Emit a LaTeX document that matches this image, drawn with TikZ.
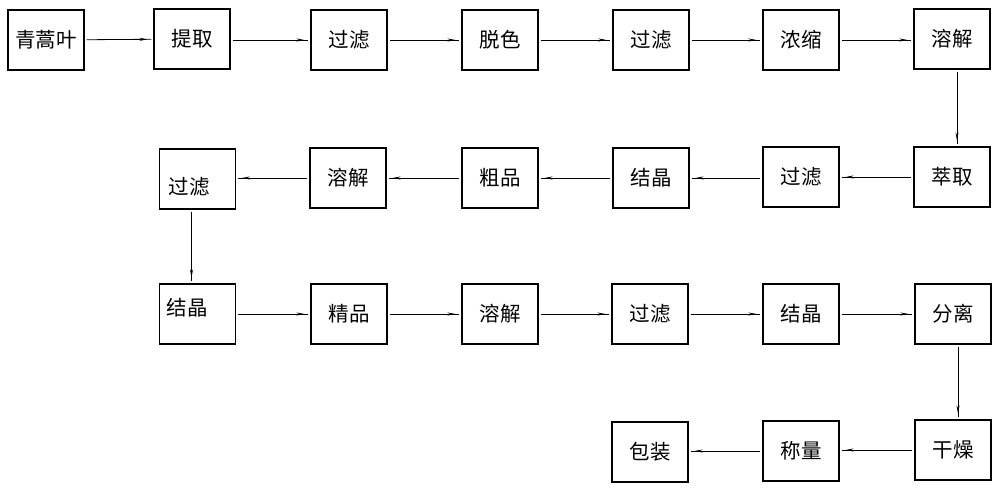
\documentclass[tikz,border=0pt]{standalone}
\usepackage{fontspec}
\newfontfamily\cjk{Noto Sans CJK SC}
\usetikzlibrary{arrows.meta,decorations.markings}
\begin{document}
\begin{tikzpicture}[x=1pt,y=-1pt,
  txt/.style={font=\cjk\fontsize{20.5}{24}\selectfont},
  box/.style={draw,line width=1.1pt,minimum width=76pt,minimum height=60pt,inner sep=0pt,txt},
  flow/.style={line width=0.8pt,shorten <=2pt,shorten >=2pt,postaction={decorate},
    decoration={markings,mark=at position -6pt with {\arrow{Stealth[length=8pt,width=3pt]}}}}]
\useasboundingbox (0,0) rectangle (1000,490);
% row 1
\node[box] (a1) at (46,40) {青蒿叶};
\node[box] (a2) at (192,39) {提取};
\node[box] (a3) at (349,40) {过滤};
\node[box] (a4) at (500,40) {脱色};
\node[box] (a5) at (651,40) {过滤};
\node[box] (a6) at (801,40) {浓缩};
\node[box] (a7) at (952,39) {溶解};
% row 2
\node[box] (b1) at (952,177) {萃取};
\node[box] (b2) at (801,177) {过滤};
\node[box] (b3) at (651,178) {结晶};
\node[box] (b4) at (500,178) {粗品};
\node[box] (b5) at (348,178) {溶解};
\node[box,label={[txt,xshift=-8.5pt,yshift=-8pt]center:过滤}] (b6) at (197.5,179) {};
% row 3
\node[box,label={[txt,xshift=-10.5pt,yshift=6pt]center:结晶}] (c1) at (197.5,314) {};
\node[box] (c2) at (349,314) {精品};
\node[box] (c3) at (500,314) {溶解};
\node[box] (c4) at (650,314) {过滤};
\node[box] (c5) at (801,314) {结晶};
\node[box] (c6) at (953,314) {分离};
% row 4
\node[box] (d1) at (953,450) {干燥};
\node[box] (d2) at (801,451) {称量};
\node[box] (d3) at (650,452) {包装};
% arrows row 1
\draw[flow] (a1) -- (a2);
\draw[flow] (a2.east |- a1) -- (a3.west |- a1);
\draw[flow] (a3) -- (a4);
\draw[flow] (a4) -- (a5);
\draw[flow] (a5) -- (a6);
\draw[flow] (a6) -- (a7.west |- a6);
\draw[flow] ([xshift=5pt]a7.south) -- ([xshift=5pt]b1.north);
% row 2
\draw[flow] (b1) -- (b2);
\draw[flow] (b2.west |- b3) -- (b3);
\draw[flow] (b3) -- (b4);
\draw[flow] (b4) -- (b5);
\draw[flow] (b5.west) -- (b6.east |- b5.west);
\draw[flow] ([xshift=-6pt]b6.south) -- ([xshift=-6pt]c1.north);
% row 3
\draw[flow] (c1) -- (c2);
\draw[flow] (c2) -- (c3);
\draw[flow] (c3) -- (c4);
\draw[flow] (c4) -- (c5);
\draw[flow] (c5) -- (c6);
\draw[flow] ([xshift=5pt]c6.south) -- ([xshift=5pt]d1.north);
% row 4
\draw[flow] (d1.west) -- (d2.east |- d1.west);
\draw[flow] (d2.west) -- (d3.east |- d2.west);
\end{tikzpicture}
\end{document}
